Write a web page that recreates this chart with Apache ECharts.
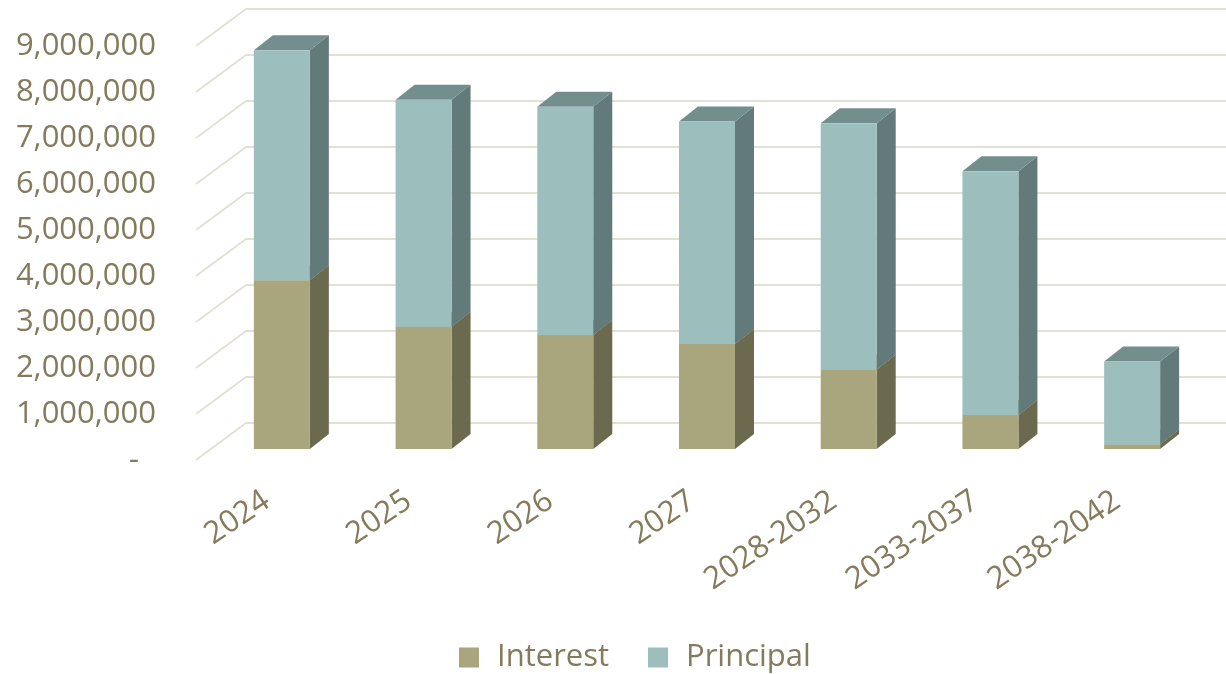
<!DOCTYPE html>
<html>
<head>
<meta charset="utf-8">
<script src="https://cdn.jsdelivr.net/npm/echarts@6/dist/echarts.min.js"></script>
<style>
  html, body { margin: 0; padding: 0; background: #ffffff; }
  #chart { width: 1226px; height: 674px; }
</style>
</head>
<body>
<div id="chart"></div>
<script>
// Debt service schedule: interest and principal by period
const categories = ['2024', '2025', '2026', '2027', '2028-2032', '2033-2037', '2038-2042'];
const interest  = [3670000, 2660000, 2480000, 2280000, 1730000, 740000, 100000];
const principal = [5000000, 4930000, 4960000, 4840000, 5350000, 5300000, 1800000];
const yTicks = [0, 1000000, 2000000, 3000000, 4000000, 5000000, 6000000, 7000000, 8000000, 9000000];

const TEXT = '#857b5c';
const GRID = '#e3e0d6';
const FONT = '"Open Sans", "Noto Sans", sans-serif';

// oblique projection offsets
const WALL_DX = 50, WALL_DY = -37;   // front edge -> back wall
const BAR_DX = 15, BAR_DY = -11;     // front edge -> bar front face
const DEPTH_DX = 19, DEPTH_DY = -15; // bar depth

const colors = {
  interest:  { front: '#a9a57c', side: '#6c6a4e', top: '#8a8763' },
  principal: { front: '#9cbfbe', side: '#627a79', top: '#728e8d' }
};

const interestData = categories.map((c, i) => [i, 0, interest[i]]);
const principalData = categories.map((c, i) => [i, interest[i], interest[i] + principal[i]]);

function makeBarRenderer(pal) {
  return function (params, api) {
    const idx = api.value(0);
    const p0 = api.coord([idx, api.value(1)]);
    const p1 = api.coord([idx, api.value(2)]);
    const w = api.size([1, 0])[0] * 0.395;
    const l = p0[0] + BAR_DX - w / 2;
    const r = l + w;
    const top = p1[1] + BAR_DY;
    const bot = p0[1] + BAR_DY;
    return {
      type: 'group',
      children: [
        { type: 'polygon', shape: { points: [[r, top], [r + DEPTH_DX, top + DEPTH_DY], [r + DEPTH_DX, bot + DEPTH_DY], [r, bot]] },
          style: { fill: pal.side } },
        { type: 'polygon', shape: { points: [[l, top], [l + DEPTH_DX, top + DEPTH_DY], [r + DEPTH_DX, top + DEPTH_DY], [r, top]] },
          style: { fill: pal.top } },
        { type: 'rect', shape: { x: l, y: top, width: w, height: bot - top },
          style: { fill: pal.front } }
      ]
    };
  };
}

const chart = echarts.init(document.getElementById('chart'), null, { renderer: 'canvas' });

chart.setOption({
  backgroundColor: '#ffffff',
  animation: false,
  textStyle: { fontFamily: FONT },
  grid: { left: 196, right: 38, top: 46, bottom: 214 },
  legend: {
    top: 637,
    left: 454,
    itemWidth: 20,
    itemHeight: 20,
    itemGap: 39,
    icon: 'rect',
    textStyle: { color: TEXT, fontSize: 31, fontFamily: FONT, padding: [0, 0, 0, 13] },
    data: [
      { name: 'Interest', itemStyle: { color: colors.interest.front } },
      { name: 'Principal', itemStyle: { color: colors.principal.front } }
    ]
  },
  xAxis: {
    type: 'category',
    data: categories,
    axisLine: { show: false },
    axisTick: { show: false },
    splitLine: { show: false },
    axisLabel: { color: TEXT, fontSize: 31, fontFamily: FONT, rotate: 34, margin: 38, interval: 0 }
  },
  yAxis: {
    type: 'value',
    min: 0,
    max: 9000000,
    interval: 1000000,
    axisLine: { show: false },
    axisTick: { show: false },
    splitLine: { show: false },
    axisLabel: {
      color: TEXT, fontSize: 31, fontFamily: FONT, margin: 40,
      formatter: v => v === 0 ? '{d|-}' : v.toLocaleString('en-US'),
      rich: { d: { color: TEXT, fontSize: 31, fontFamily: FONT, padding: [0, 17, 0, 0] } }
    }
  },
  series: [
    {
      name: 'gridlines',
      type: 'custom',
      silent: true,
      clip: false,
      z: 1,
      data: yTicks.map(v => [0, v]),
      renderItem: function (params, api) {
        const cs = params.coordSys;
        const y = api.coord([0, api.value(1)])[1];
        const x0 = cs.x;
        return {
          type: 'polyline',
          shape: { points: [[x0, y], [x0 + WALL_DX, y + WALL_DY], [cs.x + cs.width + WALL_DX, y + WALL_DY]] },
          style: { stroke: GRID, lineWidth: 2, fill: null }
        };
      }
    },
    {
      name: 'Interest',
      type: 'custom',
      clip: false,
      z: 2,
      itemStyle: { color: colors.interest.front },
      data: interestData,
      renderItem: makeBarRenderer(colors.interest)
    },
    {
      name: 'Principal',
      type: 'custom',
      clip: false,
      z: 3,
      itemStyle: { color: colors.principal.front },
      data: principalData,
      renderItem: makeBarRenderer(colors.principal)
    }
  ]
});
</script>
</body>
</html>
